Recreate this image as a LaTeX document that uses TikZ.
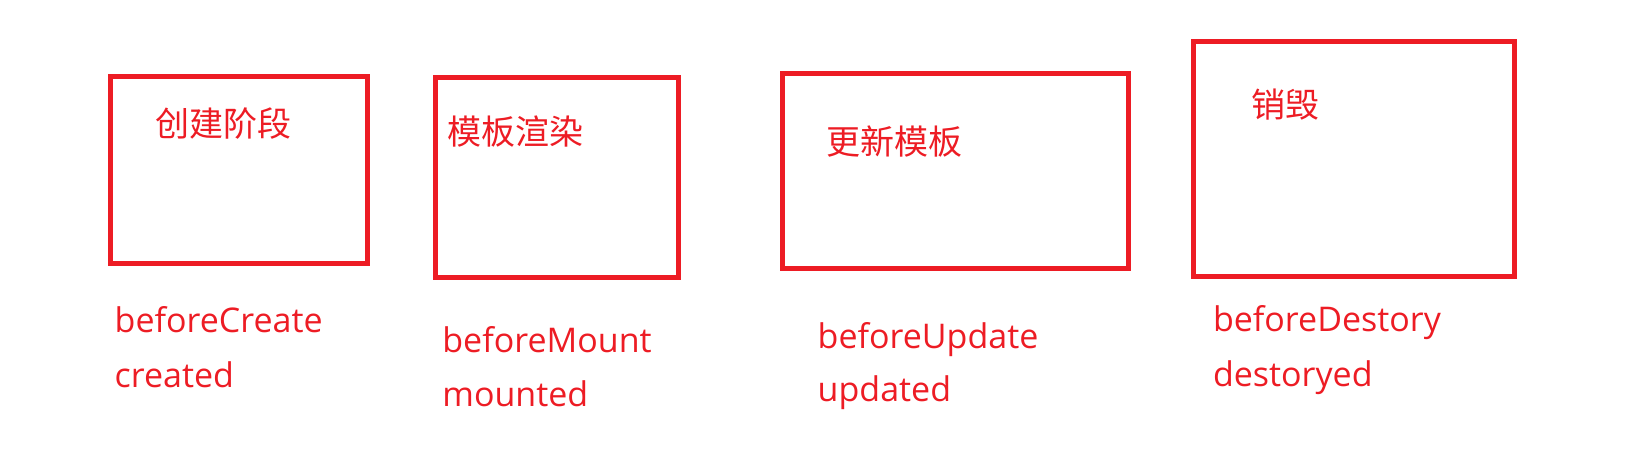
\documentclass[tikz,border=0pt]{standalone}
\usepackage{fontspec}
\setmainfont{Open Sans}
\newfontfamily\cjk{Noto Sans CJK SC}
\definecolor{pred}{HTML}{ED1C24}
\tikzset{
  stagebox/.style={draw=pred, line width=5pt, inner sep=0pt, rectangle},
  title/.style={text=pred, font=\cjk\fontsize{34}{34}\selectfont, anchor=west, inner sep=0pt},
  hook/.style={text=pred, font=\fontsize{34}{34}\selectfont, anchor=base west, inner sep=0pt}
}
\begin{document}
\begin{tikzpicture}[x=1pt,y=-1pt]
\useasboundingbox (0,0) rectangle (1648,452);
% boxes
\node[stagebox, minimum width=256.5pt, minimum height=186.5pt] (b1) at (238.75,169.75) {};
\node[stagebox, minimum width=242.8pt, minimum height=199.7pt] (b2) at (556.9,177.35) {};
\node[stagebox, minimum width=346pt, minimum height=194.5pt] (b3) at (955.5,170.75) {};
\node[stagebox, minimum width=320.5pt, minimum height=234.5pt] (b4) at (1353.75,158.75) {};
% titles
\node[title] (t1) at (155.5,123.4) {创建阶段};
\node[title] (t2) at (447.5,132) {模板渲染};
\node[title] (t3) at (826.5,141.3) {更新模板};
\node[title] (t4) at (1251.5,105) {销毁};
% hooks
\node[hook] (h1a) at (114.5,332.3) {beforeCreate};
\node[hook] (h1b) at (114.5,387.7) {created};
\node[hook] (h2a) at (442.2,352.7) {beforeMount};
\node[hook] (h2b) at (442.2,406.7) {mounted};
\node[hook] (h3a) at (817.5,348.3) {beforeUpdate};
\node[hook] (h3b) at (817.5,401.7) {updated};
\node[hook] (h4a) at (1212.8,331) {beforeDestory};
\node[hook] (h4b) at (1212.8,386.7) {destoryed};
\end{tikzpicture}
\end{document}
